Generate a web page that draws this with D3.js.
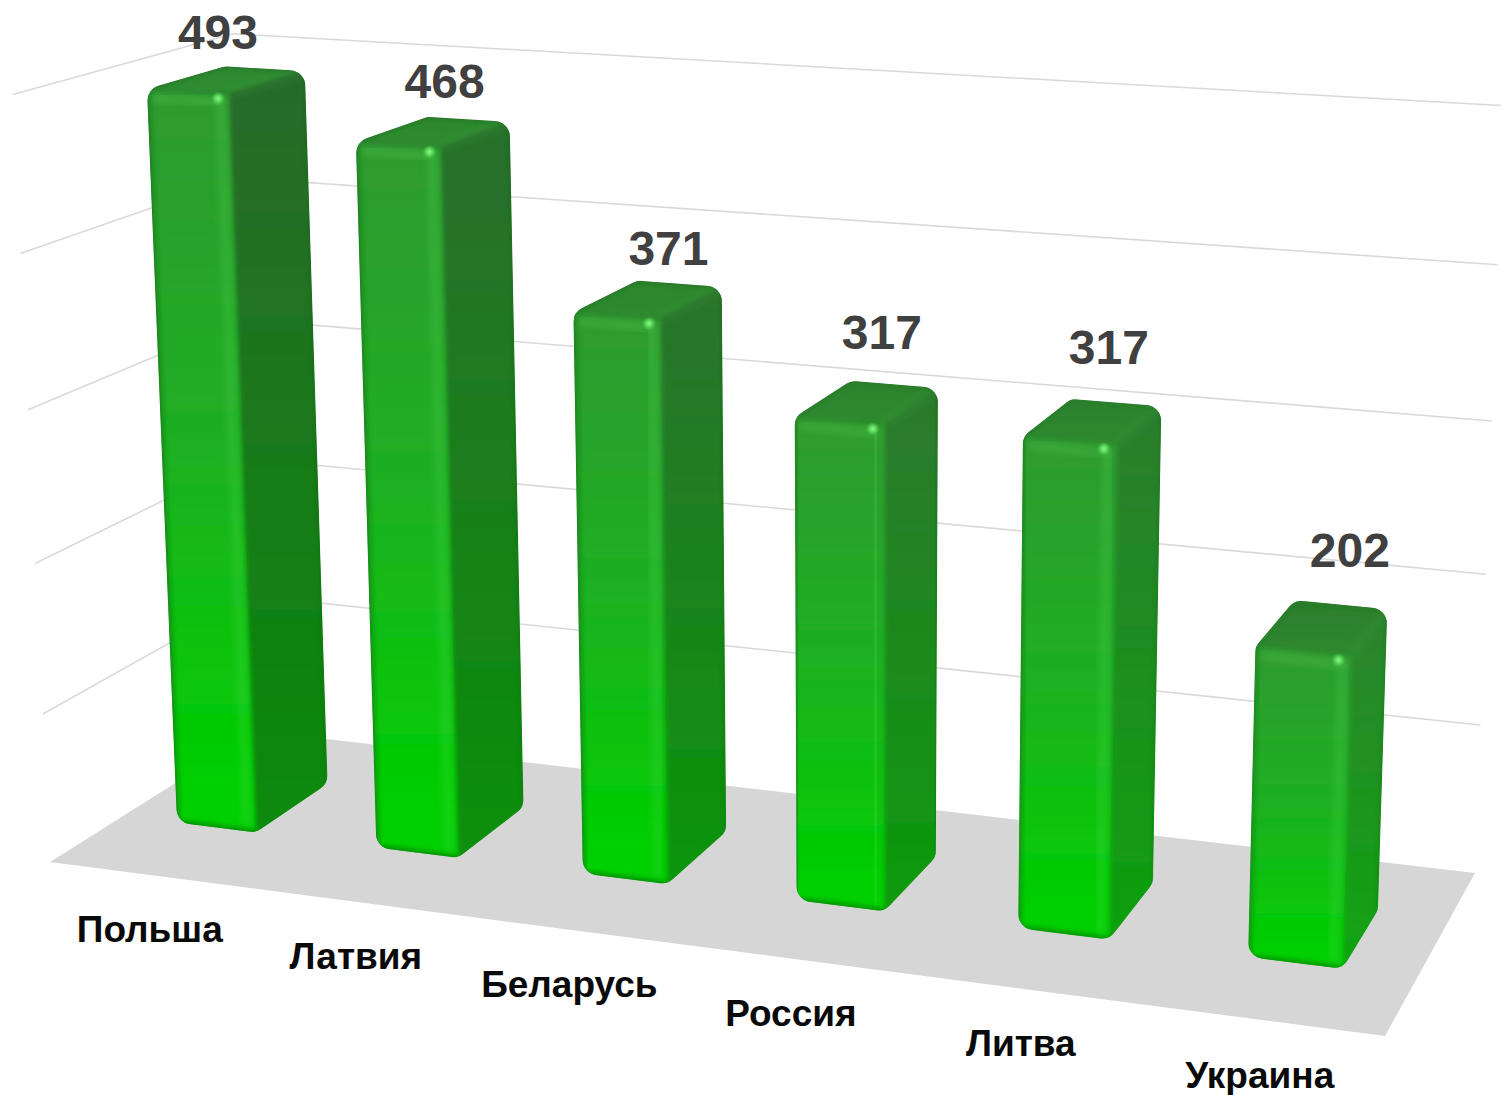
<!DOCTYPE html>
<html><head><meta charset="utf-8">
<style>html,body{margin:0;padding:0;background:#fff;overflow:hidden}svg{display:block}</style>
<script src="https://cdn.jsdelivr.net/npm/d3@7"></script></head>
<body><svg id="c" width="1501" height="1095"></svg>
<script>
const categories = ["Польша","Латвия","Беларусь","Россия","Литва","Украина"];
const values = [493,468,371,317,317,202];
const gridValues = [106.6,205.2,303.8,402.4,501];

// layout: floor corners on screen, front-left, front-right, back-right, back-left
const floorCorners = [[50,862],[1385,1036],[1475,873],[258,731]];
const verticalVanish = [860,17500], verticalStrength = 0.0441;
const labelLift = [0.055,0.059,0.058,0.080,0.083,0.087];
const labelShift = [-0.004,0.008,0.0105,0.0016,-0.0024,0.001];

const svg = d3.select("#c");
const defs = svg.append("defs");

// projective camera: floor homography + vertical vanishing point
function homography(c){
  const [[x0,y0],[x1,y1],[x2,y2],[x3,y3]] = c;
  const dx1=x1-x2, dx2=x3-x2, sx=x0-x1+x2-x3, dy1=y1-y2, dy2=y3-y2, sy=y0-y1+y2-y3;
  const den=dx1*dy2-dx2*dy1, g=(sx*dy2-dx2*sy)/den, h=(dx1*sy-sx*dy1)/den;
  return {a:x1-x0+g*x1,b:x3-x0+h*x3,c:x0,d:y1-y0+g*y1,e:y3-y0+h*y3,f:y0,g,h};
}
const H = homography(floorCorners);
function project(u,v,z){
  const L = verticalStrength*z;
  const w = H.g*u+H.h*v+1-L;
  return [(H.a*u+H.b*v+H.c-L*verticalVanish[0])/w,(H.d*u+H.e*v+H.f-L*verticalVanish[1])/w];
}
const uScale = d3.scaleBand().domain(categories).range([0.046,0.948]).paddingInner(0.6);
const vScale = d3.scaleLinear().domain([0,1]).range([0.33,0.695]);
const yScale = d3.scaleLinear().domain([8,501]).range([0,1]);
const labelU = d3.scaleLinear().domain([0.08,0.915]).range([0.063,0.926]);
const catZ = d3.scaleLinear().domain([0.08,0.915]).range([-0.073,-0.068]);

function poly(pts){ return d3.line()(pts)+"Z"; }
function rounded(pts,r){
  const p=d3.path(), n=pts.length;
  const m=[(pts[n-1][0]+pts[0][0])/2,(pts[n-1][1]+pts[0][1])/2];
  p.moveTo(m[0],m[1]);
  for(let i=0;i<n;i++){ const a=pts[i], b=pts[(i+1)%n]; p.arcTo(a[0],a[1],b[0],b[1],r); }
  p.closePath();
  return p.toString();
}
function gradient(id,stops,x1=0,y1=0,x2=0,y2=1){
  const g=defs.append("linearGradient").attr("id",id).attr("x1",x1).attr("y1",y1).attr("x2",x2).attr("y2",y2);
  stops.forEach(s=>g.append("stop").attr("offset",s[0]).attr("stop-color",s[1]));
}
[["b1",1],["b2",2],["b3",3.5],["b4",5]].forEach(([id,s])=>defs.append("filter").attr("id",id)
  .attr("x","-50%").attr("y","-50%").attr("width","200%").attr("height","200%")
  .attr("filterUnits","objectBoundingBox").append("feGaussianBlur").attr("stdDeviation",s));
gradient("front",[[0,"#2f9a30"],[0.45,"#1fae24"],[0.93,"#00cf00"],[1,"#00cf00"]]);
const spec=defs.append("radialGradient").attr("id","spec");
spec.append("stop").attr("offset",0).attr("stop-color","#8dfb8d");
spec.append("stop").attr("offset",0.45).attr("stop-color","#66e566").attr("stop-opacity",0.8);
spec.append("stop").attr("offset",1).attr("stop-color","#4fd24f").attr("stop-opacity",0);

// floor
svg.append("path").attr("d",poly(floorCorners)).attr("fill","#d6d6d6");

// gridlines on left wall and back wall
const grid = svg.append("g").attr("fill","none").attr("stroke","#d9d9d9").attr("stroke-width",1.6);
grid.selectAll("path").data(gridValues).join("path").attr("d",d=>{
  const z=yScale(d);
  return d3.line()([project(0,0,z),project(0,1,z),project(1,1,z)]);
});

// bars
const bars = svg.selectAll("g.bar").data(categories.map((c,i)=>({c,v:values[i],i}))).join("g").attr("class","bar");
bars.each(function(d){
  const g=d3.select(this), u0=uScale(d.c), u1=u0+uScale.bandwidth(), v0=vScale(0), v1=vScale(1), z=yScale(d.v);
  const uMid=(u0+u1)/2;
  const FBL=project(u0,v0,0),FBR=project(u1,v0,0),BBR=project(u1,v1,0);
  const FTL=project(u0,v0,z),FTR=project(u1,v0,z),BTR=project(u1,v1,z),BTL=project(u0,v1,z);
  const sil=[FBL,FBR,BBR,BTR,BTL,FTL];
  defs.append("clipPath").attr("id","clip"+d.i).append("path").attr("d",rounded(sil,16));
  const t=uMid;
  gradient("side"+d.i,[[0,d3.interpolateRgb("#27692a","#2c8230")(t)],[0.12,d3.interpolateRgb("#276a28","#2a8a2c")(t)],[1,d3.interpolateRgb("#068806","#10a810")(t)]]);
  gradient("top"+d.i,[[0,d3.interpolateRgb("#2f8a30","#2c7c2c")(t)],[1,d3.interpolateRgb("#2f8f30","#30882f")(t)]],0,0,0,1);
  const b=g.append("g").attr("clip-path","url(#clip"+d.i+")");
  b.append("path").attr("d",poly(sil)).attr("fill","url(#side"+d.i+")");
  b.append("path").attr("d",poly([FTL,FTR,BTR,BTL])).attr("fill","url(#top"+d.i+")").attr("filter","url(#b2)");
  b.append("path").attr("d",poly([FBR,BBR,BTR,FTR])).attr("fill","url(#side"+d.i+")").attr("filter","url(#b2)");
  b.append("path").attr("d",poly([FBL,FBR,FTR,FTL])).attr("fill","url(#front)").attr("filter","url(#b2)");
  const edge=(p,q,col,w,op,f)=>b.append("path").attr("d",d3.line()([p,q])).attr("stroke",col).attr("stroke-width",w)
    .attr("stroke-opacity",op).attr("fill","none").attr("filter","url(#"+f+")");
  // soft bevels
  edge(FTL,FBL,"#12801a",8,0.5,"b2");
  edge(FBL,FBR,"#008a00",7,0.65,"b2");
  edge([FTR[0]-9,FTR[1]+2],[FBR[0]-9,FBR[1]-6],"#4fd84f",9,0.28,"b3");
  edge([FTL[0]+6,FTL[1]+9],[FTR[0]-8,FTR[1]+9],"#4fbf4f",7,0.45,"b3");
  edge(FTL,BTL,"#1c6f20",5,0.3,"b2");
  edge(BTR,BTL,"#1f6f22",6,0.3,"b2");
  edge(BTR,BBR,"#0a5c10",5,0.2,"b2");
  edge(FTR,BTR,"#3c9a3c",8,0.3,"b4");
  const s=project(u1-0.009,v0,z-0.004);
  b.append("circle").attr("cx",s[0]).attr("cy",s[1]+2).attr("r",7).attr("fill","url(#spec)");
});

// value labels
svg.append("g").selectAll("text").data(categories.map((c,i)=>({c,v:values[i],i}))).join("text")
  .attr("transform",d=>{const p=project(labelU(uScale(d.c)+uScale.bandwidth()/2)+labelShift[d.i],vScale(0.73),yScale(d.v)+labelLift[d.i]);return `translate(${p[0]},${p[1]})`;})
  .attr("text-anchor","middle").attr("dy","0.36em")
  .attr("font-family","'Liberation Sans',Arial,sans-serif").attr("font-weight",700).attr("font-size",48)
  .attr("fill","#404040").text(d=>d.v);

// category labels
svg.append("g").selectAll("text").data(categories).join("text")
  .attr("transform",d=>{const c=uScale(d)+uScale.bandwidth()/2;const p=project(c+0.0015,0,catZ(c));return `translate(${p[0]},${p[1]})`;})
  .attr("text-anchor","middle").attr("dy","0.36em")
  .attr("font-family","'Liberation Sans',Arial,sans-serif").attr("font-weight",700).attr("font-size",37)
  .attr("fill","#0a0a0a").text(d=>d);
</script></body></html>
